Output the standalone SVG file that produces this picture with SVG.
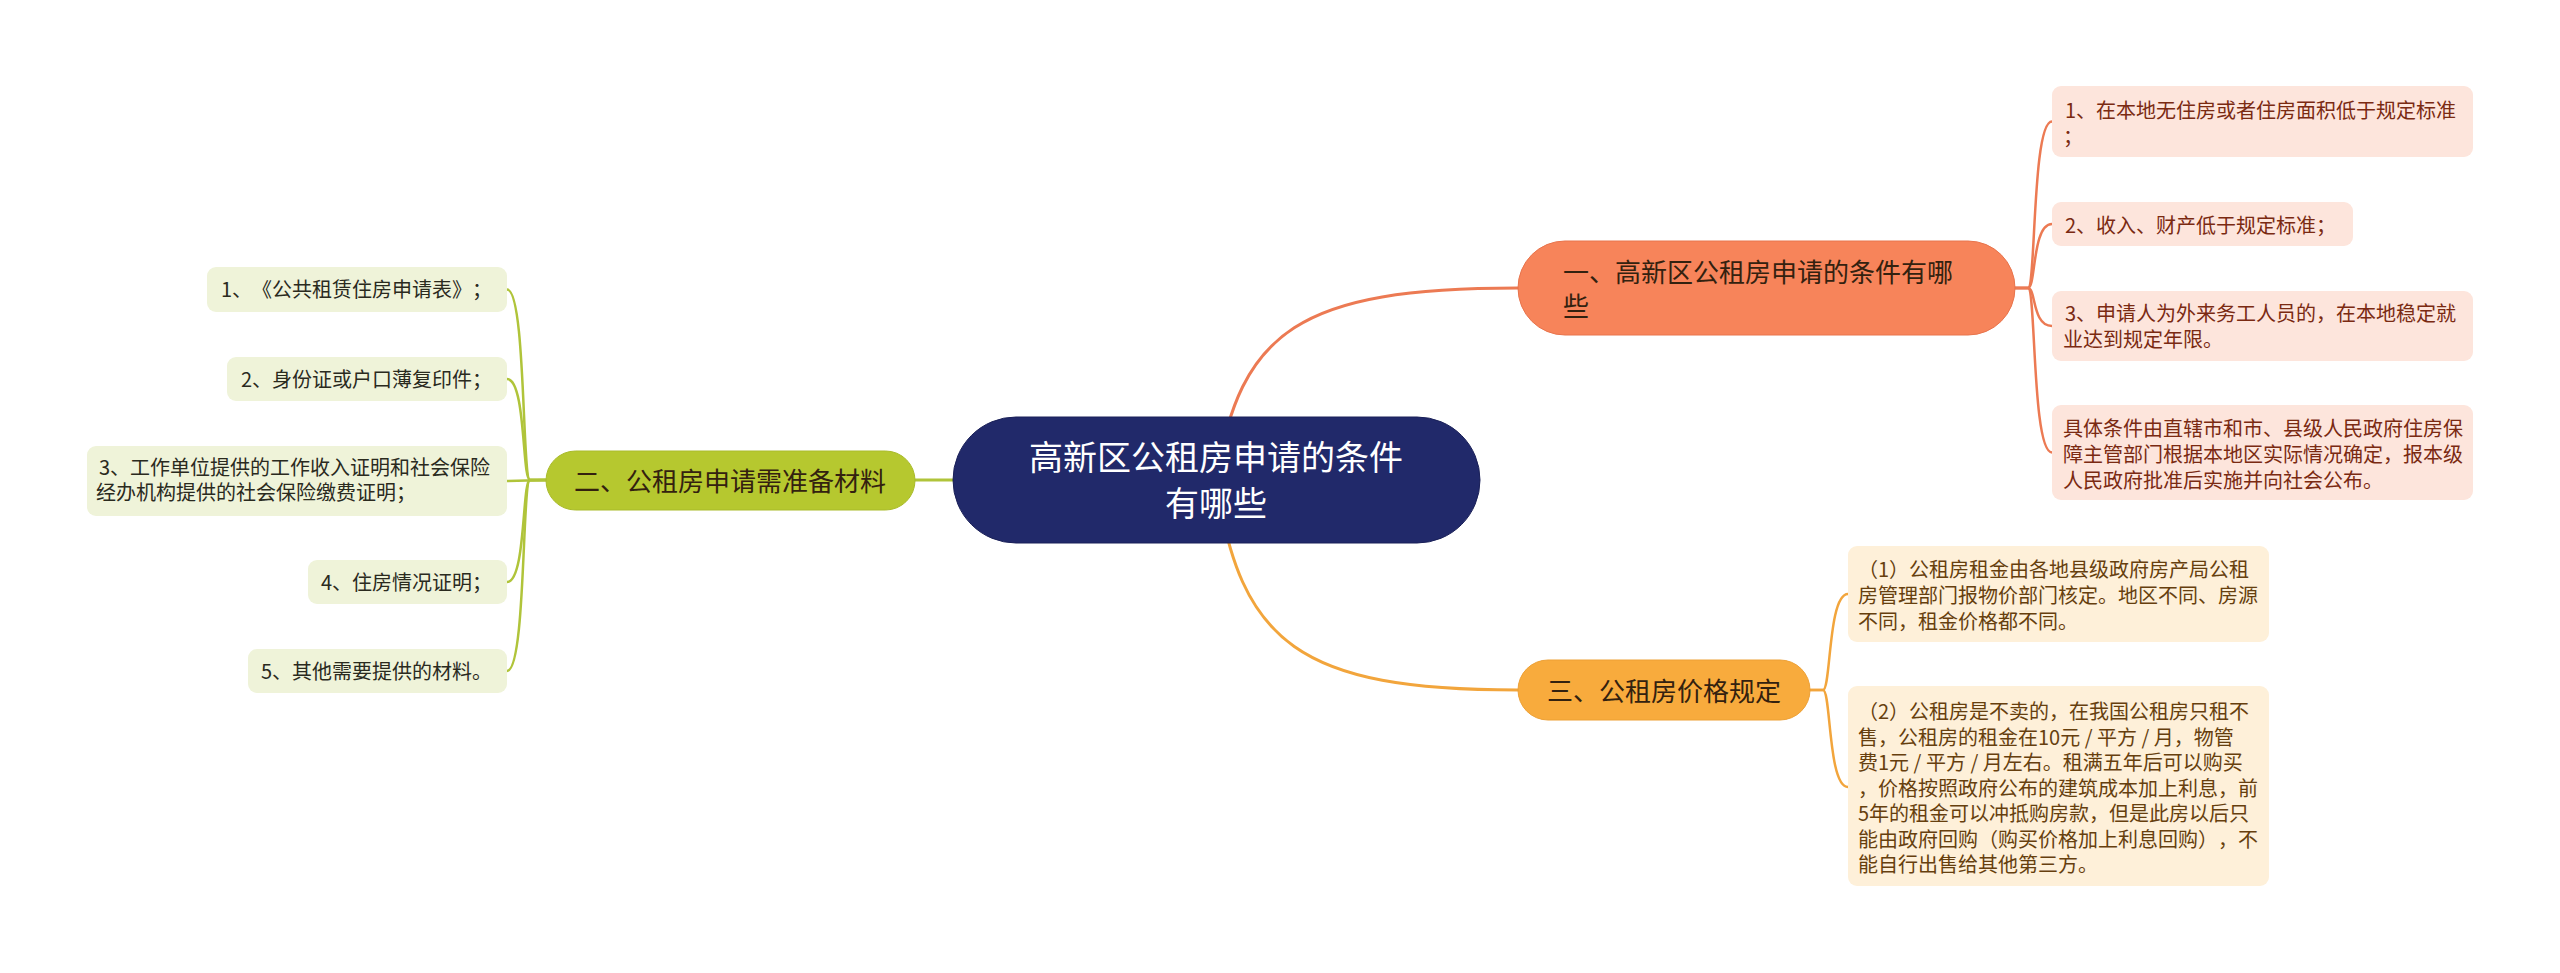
<svg xmlns="http://www.w3.org/2000/svg" width="2560" height="973" viewBox="0 0 2560 973">
<style>
text{font-family:"Noto Sans CJK SC","Noto Sans",sans-serif;text-spacing-trim:space-all;}
.con{fill:none;stroke-linecap:round}
.c1{stroke:#ec7a53}
.c2{stroke:#b0c43a}
.c3{stroke:#f2a53c}
.main{stroke-width:3}
.br{stroke-width:2.5}
.root{fill:#21296a;stroke:#1a2058;stroke-width:1}
.roott{fill:#ffffff;font-size:34px;text-anchor:middle}
.b1{fill:#f7845a;stroke:#e8744c;stroke-width:1}
.b2{fill:#b6c82f;stroke:#a9bb2a;stroke-width:1}
.b3{fill:#f8ab3d;stroke:#eda035;stroke-width:1}
.bt{font-size:26px;fill:#33210f}
.l1{fill:#fde5dc}
.l2{fill:#eff3d9}
.l3{fill:#fef0d9}
.lt1{font-size:20px;fill:#7a2a12}
.lt2{font-size:20px;fill:#2a2a1e}
.lt3{font-size:20px;fill:#663f0e}
</style>
<rect width="2560" height="973" fill="#ffffff"/>
<g id="connectors">
<path class="con c1 main" d="M1216,480 C1240,330 1300,288 1518,288"/>
<path class="con c2 main" d="M1216,480 L915,480"/>
<path class="con c3 main" d="M1216,480 C1240,644 1300,690 1518,690"/>
<path class="con c1 br" d="M2015,288 L2028,288 C2036,288 2032,121.5 2052,121.5"/>
<path class="con c1 br" d="M2015,288 L2028,288 C2036,288 2032,224 2052,224"/>
<path class="con c1 br" d="M2015,288 L2028,288 C2036,288 2032,326 2052,326"/>
<path class="con c1 br" d="M2015,288 L2028,288 C2036,288 2032,452.5 2052,452.5"/>
<path class="con c3 br" d="M1810,690 L1823,690 C1831,690 1828,594 1848,594"/>
<path class="con c3 br" d="M1810,690 L1823,690 C1831,690 1828,787 1848,787"/>
<path class="con c2 br" d="M546,480 L530,480 C522,480 526,289.5 507,289.5"/>
<path class="con c2 br" d="M546,480 L530,480 C522,480 526,379 507,379"/>
<path class="con c2 br" d="M546,480 L507,481"/>
<path class="con c2 br" d="M546,480 L530,480 C522,480 526,582 507,582"/>
<path class="con c2 br" d="M546,480 L530,480 C522,480 526,671 507,671"/>
</g>
<g id="root">
<rect class="root" x="953" y="417" width="527" height="126" rx="63"/>
<text class="roott" x="1216" y="470">高新区公租房申请的条件</text>
<text class="roott" x="1216" y="516">有哪些</text>
</g>
<g id="branch1">
<rect class="b1" x="1518" y="241" width="497" height="94" rx="47"/>
<text class="bt" x="1563" y="282">一、高新区公租房申请的条件有哪</text>
<text class="bt" x="1563" y="316">些</text>
</g>
<g id="branch2">
<rect class="b2" x="546" y="451" width="369" height="59" rx="29.5"/>
<text class="bt" x="730" y="491" text-anchor="middle">二、公租房申请需准备材料</text>
</g>
<g id="branch3">
<rect class="b3" x="1518" y="660" width="292" height="60" rx="30"/>
<text class="bt" x="1664" y="701" text-anchor="middle">三、公租房价格规定</text>
</g>
<g id="leaf-r1">
<rect class="l1" x="2052" y="86" width="421" height="71" rx="9"/>
<text class="lt1" x="2065" y="118">1、在本地无住房或者住房面积低于规定标准</text>
<text class="lt1" x="2063" y="144">；</text>
</g>
<g id="leaf-r2">
<rect class="l1" x="2052" y="202" width="301" height="44" rx="9"/>
<text class="lt1" x="2065" y="233">2、收入、财产低于规定标准；</text>
</g>
<g id="leaf-r3">
<rect class="l1" x="2052" y="291" width="421" height="70" rx="9"/>
<text class="lt1" x="2065" y="321">3、申请人为外来务工人员的，在本地稳定就</text>
<text class="lt1" x="2063" y="347">业达到规定年限。</text>
</g>
<g id="leaf-r4">
<rect class="l1" x="2052" y="405" width="421" height="95" rx="9"/>
<text class="lt1" x="2063" y="436">具体条件由直辖市和市、县级人民政府住房保</text>
<text class="lt1" x="2063" y="462">障主管部门根据本地区实际情况确定，报本级</text>
<text class="lt1" x="2063" y="488">人民政府批准后实施并向社会公布。</text>
</g>
<g id="leaf-b1">
<rect class="l3" x="1848" y="546" width="421" height="96" rx="9"/>
<text class="lt3" x="1858" y="577">（1）公租房租金由各地县级政府房产局公租</text>
<text class="lt3" x="1858" y="603">房管理部门报物价部门核定。地区不同、房源</text>
<text class="lt3" x="1858" y="629">不同，租金价格都不同。</text>
</g>
<g id="leaf-b2">
<rect class="l3" x="1848" y="686" width="421" height="200" rx="9"/>
<text class="lt3" x="1858" y="719">（2）公租房是不卖的，在我国公租房只租不</text>
<text class="lt3" x="1858" y="744.5">售，公租房的租金在10元 / 平方 / 月，物管</text>
<text class="lt3" x="1858" y="770">费1元 / 平方 / 月左右。租满五年后可以购买</text>
<text class="lt3" x="1858" y="795.5">，价格按照政府公布的建筑成本加上利息，前</text>
<text class="lt3" x="1858" y="821">5年的租金可以冲抵购房款，但是此房以后只</text>
<text class="lt3" x="1858" y="846.5">能由政府回购（购买价格加上利息回购），不</text>
<text class="lt3" x="1858" y="872">能自行出售给其他第三方。</text>
</g>
<g id="leaf-l1">
<rect class="l2" x="207" y="267" width="300" height="45" rx="9"/>
<text class="lt2" x="221" y="297">1、《公共租赁住房申请表》；</text>
</g>
<g id="leaf-l2">
<rect class="l2" x="227" y="357" width="280" height="44" rx="9"/>
<text class="lt2" x="241" y="387">2、身份证或户口薄复印件；</text>
</g>
<g id="leaf-l3">
<rect class="l2" x="87" y="446" width="420" height="70" rx="9"/>
<text class="lt2" x="99" y="475">3、工作单位提供的工作收入证明和社会保险</text>
<text class="lt2" x="96" y="500">经办机构提供的社会保险缴费证明；</text>
</g>
<g id="leaf-l4">
<rect class="l2" x="308" y="560" width="199" height="44" rx="9"/>
<text class="lt2" x="321" y="590">4、住房情况证明；</text>
</g>
<g id="leaf-l5">
<rect class="l2" x="248" y="649" width="259" height="44" rx="9"/>
<text class="lt2" x="261" y="679">5、其他需要提供的材料。</text>
</g>
</svg>
